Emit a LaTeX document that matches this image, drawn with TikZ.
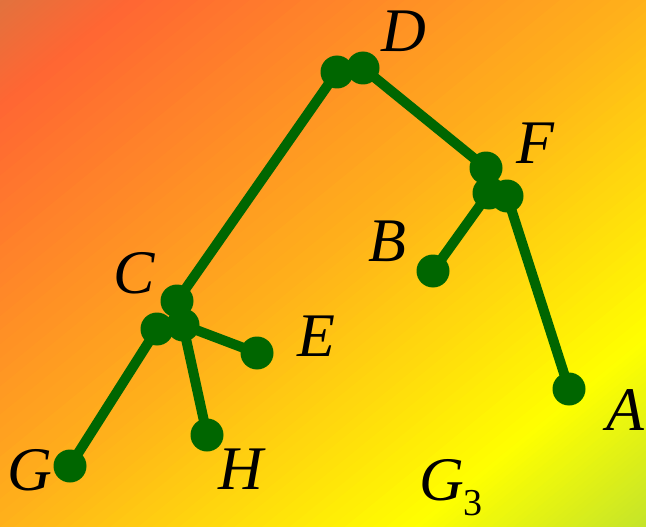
\documentclass[tikz,border=0pt]{standalone}
\usepackage{fontspec}
\setmainfont{Liberation Serif}
\definecolor{c0}{RGB}{226,114,62}
\definecolor{c1}{RGB}{255,102,51}
\definecolor{c2}{RGB}{255,178,26}
\definecolor{c3}{RGB}{255,255,0}
\definecolor{c4}{RGB}{196,228,42}
\definecolor{tree}{RGB}{0,102,0}
\pgfdeclarelayer{bg}
\pgfdeclarelayer{edges}
\pgfsetlayers{bg,edges,main}
\begin{document}
\begin{tikzpicture}[x=1pt,y=-1pt,
  edge/.style={draw=tree,line width=10pt},
  dot/.style={circle,fill=tree,inner sep=0pt,minimum size=33pt},
  lab/.style={font=\fontsize{62}{62}\selectfont\itshape,inner sep=0pt}]
\useasboundingbox (0,0) rectangle (646,527);
\begin{pgfonlayer}{bg}
\clip (0,0) rectangle (646,527);
\foreach \ta/\tb/\ca/\cb in {0/0.1/c0/c1, 0.1/0.5/c1/c2, 0.5/0.82/c2/c3, 0.82/1/c3/c4}{
  \foreach \k in {0,...,29}{
    \pgfmathsetmacro\ua{2*(\ta+(\tb-\ta)*\k/30)}
    \pgfmathsetmacro\ub{2*(\ta+(\tb-\ta)*(\k+1)/30)+0.004}
    \pgfmathtruncatemacro\p{100*(\k+0.5)/30}
    \fill[\cb!\p!\ca] ({\ua*646},0) -- ({\ub*646},0) -- (0,{\ub*527}) -- (0,{\ua*527}) -- cycle;
  }
}
\end{pgfonlayer}
% dots
\node[dot] (d1) at (337,72) {};
\node[dot] (d2) at (363,68) {};
\node[dot] (f1) at (486,168) {};
\node[dot] (f2) at (489,193) {};
\node[dot] (f3) at (507,196) {};
\node[dot] (c1) at (177,301) {};
\node[dot] (c2) at (157,329) {};
\node[dot] (c3) at (183,325) {};
\node[dot] (b) at (433,271) {};
\node[dot] (a) at (569,389) {};
\node[dot] (e) at (257,353) {};
\node[dot] (h) at (207,435) {};
\node[dot] (g) at (70,466) {};
% edges
\begin{pgfonlayer}{edges}
\draw[edge] (d1.center) -- (c1.center);
\draw[edge] (d2.center) -- (f1.center);
\draw[edge] (f2.center) -- (b.center);
\draw[edge] (f3.center) -- (a.center);
\draw[edge] (c2.center) -- (g.center);
\draw[edge] (c3.center) -- (e.center);
\draw[edge] (c3.center) -- (h.center);
\end{pgfonlayer}
% labels
\node[lab] (lD) at (404,31) {D};
\node[lab] (lF) at (535,143) {F};
\node[lab] (lB) at (387,241) {B};
\node[lab] (lC) at (134,273) {C};
\node[lab] (lE) at (316,336) {E};
\node[lab] (lA) at (625,410) {A};
\node[lab] (lG) at (30,470) {G};
\node[lab] (lH) at (241,469) {H};
\node[lab,anchor=base west] (lG3) at (419,500) {G\raisebox{-15pt}{\upshape\fontsize{38}{38}\selectfont 3}};
\end{tikzpicture}
\end{document}
